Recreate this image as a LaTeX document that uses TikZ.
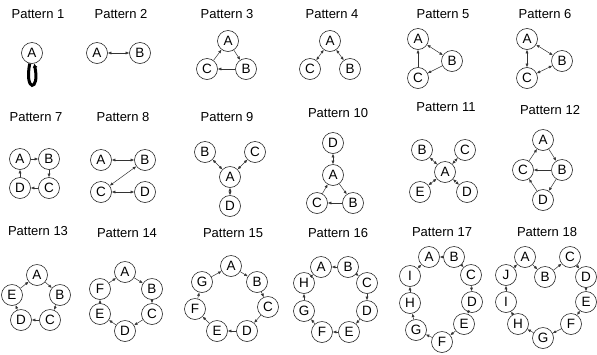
\documentclass[tikz,border=0pt]{standalone}
\usepackage{fontspec}
\setmainfont{Liberation Sans}
\usetikzlibrary{arrows.meta}
\begin{document}
\begin{tikzpicture}[x=1pt,y=-1pt,
  nd/.style={circle, draw=black!85, line width=0.6pt, minimum size=21pt, inner sep=0pt, font=\fontsize{13.5}{13.5}\selectfont},
  ttl/.style={inner sep=0pt, font=\fontsize{13}{13}\selectfont},
  ed/.style={line width=0.5pt, draw=black!80, -{Latex[length=3.5pt,width=3pt]}},
  bi/.style={line width=0.5pt, draw=black!80, {Latex[length=3.5pt,width=3pt]}-{Latex[length=3.5pt,width=3pt]}}]
\useasboundingbox (0,0) rectangle (597,354);
% titles
\node[ttl] (t1) at (38,14) {Pattern 1};
\node[ttl] (t2) at (121,14) {Pattern 2};
\node[ttl] (t3) at (227,14) {Pattern 3};
\node[ttl] (t4) at (332,14) {Pattern 4};
\node[ttl] (t5) at (443,14) {Pattern 5};
\node[ttl] (t6) at (545,14) {Pattern 6};
\node[ttl] (t7) at (36,117) {Pattern 7};
\node[ttl] (t8) at (123,117) {Pattern 8};
\node[ttl] (t9) at (227,117) {Pattern 9};
\node[ttl] (t10) at (338,113) {Pattern 10};
\node[ttl] (t11) at (446,107) {Pattern 11};
\node[ttl] (t12) at (550,110) {Pattern 12};
\node[ttl] (t13) at (38,231) {Pattern 13};
\node[ttl] (t14) at (127,233) {Pattern 14};
\node[ttl] (t15) at (233,233) {Pattern 15};
\node[ttl] (t16) at (338,233) {Pattern 16};
\node[ttl] (t17) at (442,232) {Pattern 17};
\node[ttl] (t18) at (547,232) {Pattern 18};
% Pattern 1
\node[nd] (aA) at (32,53) {A};
\draw[line width=3pt, -{Latex[length=4pt,width=5pt]}] (aA.258) .. controls (24,92) and (40,92) .. (aA.282);
% Pattern 2
\node[nd] (bA) at (97,53) {A};
\node[nd] (bB) at (140,53) {B};
\draw[bi] (bA) -- (bB);
% Pattern 3
\node[nd] (cA) at (228,41) {A};
\node[nd] (cB) at (246,69) {B};
\node[nd] (cC) at (207,69) {C};
\draw[ed] (cA) -- (cB);
\draw[ed] (cB) -- (cC);
\draw[ed] (cC) -- (cA);
% Pattern 4
\node[nd] (dA) at (330,41) {A};
\node[nd] (dB) at (350,69) {B};
\node[nd] (dC) at (310,69) {C};
\draw[bi] (dA) -- (dC);
\draw[bi] (dA) -- (dB);
% Pattern 5
\node[nd] (eA) at (418,39) {A};
\node[nd] (eB) at (452,61) {B};
\node[nd] (eC) at (418,78) {C};
\draw[bi] (eA) -- (eB);
\draw[ed] (eB) -- (eC);
\draw[ed] (eC) -- (eA);
% Pattern 6
\node[nd] (fA) at (527,39) {A};
\node[nd] (fB) at (562,61) {B};
\node[nd] (fC) at (527,78) {C};
\draw[bi] (fA) -- (fB);
\draw[bi] (fA) -- (fC);
\draw[bi] (fB) -- (fC);
% Pattern 7
\node[nd] (gA) at (20,159) {A};
\node[nd] (gB) at (49,159) {B};
\node[nd] (gC) at (49,188) {C};
\node[nd] (gD) at (20,188) {D};
\draw[ed] (gA) -- (gB);
\draw[ed] (gB) -- (gC);
\draw[ed] (gC) -- (gD);
\draw[ed] (gD) -- (gA);
% Pattern 8
\node[nd] (hA) at (101,160) {A};
\node[nd] (hB) at (145,160) {B};
\node[nd] (hC) at (101,192) {C};
\node[nd] (hD) at (145,192) {D};
\draw[bi] (hA) -- (hB);
\draw[bi] (hB) -- (hC);
\draw[bi] (hC) -- (hD);
% Pattern 9
\node[nd] (iB) at (205,152) {B};
\node[nd] (iC) at (255,152) {C};
\node[nd] (iA) at (230,177) {A};
\node[nd] (iD) at (230,206) {D};
\draw[bi] (iA) -- (iB);
\draw[bi] (iA) -- (iC);
\draw[bi] (iA) -- (iD);
% Pattern 10
\node[nd] (jD) at (333,143) {D};
\node[nd] (jA) at (333,175) {A};
\node[nd] (jC) at (317,203) {C};
\node[nd] (jB) at (353,203) {B};
\draw[bi] (jD) -- (jA);
\draw[ed] (jA) -- (jB);
\draw[ed] (jB) -- (jC);
\draw[ed] (jC) -- (jA);
% Pattern 11
\node[nd] (kB) at (422,150) {B};
\node[nd] (kC) at (465,150) {C};
\node[nd] (kA) at (445,172) {A};
\node[nd] (kE) at (420,192) {E};
\node[nd] (kD) at (467,192) {D};
\draw[bi] (kA) -- (kB);
\draw[bi] (kA) -- (kC);
\draw[bi] (kA) -- (kE);
\draw[bi] (kA) -- (kD);
% Pattern 12
\node[nd] (lA) at (543,140) {A};
\node[nd] (lC) at (523,170) {C};
\node[nd] (lB) at (562,170) {B};
\node[nd] (lD) at (543,200) {D};
\draw[ed] (lA) -- (lB);
\draw[ed] (lB) -- (lC);
\draw[ed] (lC) -- (lA);
\draw[ed] (lB) -- (lD);
\draw[ed] (lD) -- (lC);
% Pattern 13
\node[nd] (mA) at (37,275) {A};
\node[nd] (mB) at (60,295) {B};
\node[nd] (mC) at (50,320) {C};
\node[nd] (mD) at (21,320) {D};
\node[nd] (mE) at (12,295) {E};
\draw[ed] (mA) -- (mB);
\draw[ed] (mB) -- (mC);
\draw[ed] (mC) -- (mD);
\draw[ed] (mD) -- (mE);
\draw[ed] (mE) -- (mA);
% Pattern 14
\node[nd] (nA) at (125,272) {A};
\node[nd] (nB) at (152,289) {B};
\node[nd] (nC) at (152,314) {C};
\node[nd] (nD) at (125,331) {D};
\node[nd] (nE) at (100,314) {E};
\node[nd] (nF) at (100,289) {F};
\draw[ed] (nA) -- (nB);
\draw[ed] (nB) -- (nC);
\draw[ed] (nC) -- (nD);
\draw[ed] (nD) -- (nE);
\draw[ed] (nE) -- (nF);
\draw[ed] (nF) -- (nA);
% Pattern 15
\node[nd] (oA) at (231,266) {A};
\node[nd] (oB) at (257,282) {B};
\node[nd] (oC) at (268,307) {C};
\node[nd] (oD) at (247,331) {D};
\node[nd] (oE) at (217,331) {E};
\node[nd] (oF) at (195,309) {F};
\node[nd] (oG) at (202,282) {G};
\draw[ed] (oA) -- (oB);
\draw[ed] (oB) -- (oC);
\draw[ed] (oC) -- (oD);
\draw[ed] (oD) -- (oE);
\draw[ed] (oE) -- (oF);
\draw[ed] (oF) -- (oG);
\draw[ed] (oG) -- (oA);
% Pattern 16
\node[nd] (pA) at (321,267) {A};
\node[nd] (pB) at (348,267) {B};
\node[nd] (pC) at (367,283) {C};
\node[nd] (pD) at (367,311) {D};
\node[nd] (pE) at (349,332) {E};
\node[nd] (pF) at (322,332) {F};
\node[nd] (pG) at (304,311) {G};
\node[nd] (pH) at (304,283) {H};
\draw[ed] (pB) -- (pA);
\draw[ed] (pB) -- (pC);
\draw[ed] (pC) -- (pD);
\draw[ed] (pD) -- (pE);
\draw[ed] (pE) -- (pF);
\draw[ed] (pF) -- (pG);
\draw[ed] (pG) -- (pH);
\draw[ed] (pH) -- (pA);
% Pattern 17
\node[nd] (qA) at (429,257) {A};
\node[nd] (qB) at (454,257) {B};
\node[nd] (qC) at (471,275) {C};
\node[nd] (qD) at (472,302) {D};
\node[nd] (qE) at (464,324) {E};
\node[nd] (qF) at (442,342) {F};
\node[nd] (qG) at (416,330) {G};
\node[nd] (qH) at (410,303) {H};
\node[nd] (qI) at (410,276) {I};
\draw[ed] (qB) -- (qA);
\draw[ed] (qB) -- (qC);
\draw[ed] (qC) -- (qD);
\draw[ed] (qD) -- (qE);
\draw[ed] (qE) -- (qF);
\draw[ed] (qF) -- (qG);
\draw[ed] (qG) -- (qH);
\draw[ed] (qH) -- (qI);
\draw[ed] (qI) -- (qA);
% Pattern 18
\node[nd] (rA) at (525,257) {A};
\node[nd] (rB) at (545,277) {B};
\node[nd] (rC) at (570,257) {C};
\node[nd] (rD) at (586,277) {D};
\node[nd] (rE) at (586,302) {E};
\node[nd] (rF) at (571,324) {F};
\node[nd] (rG) at (543,338) {G};
\node[nd] (rH) at (518,324) {H};
\node[nd] (rI) at (506,302) {I};
\node[nd] (rJ) at (506,275) {J};
\draw[ed] (rA) -- (rB);
\draw[ed] (rB) -- (rC);
\draw[ed] (rC) -- (rD);
\draw[ed] (rD) -- (rE);
\draw[ed] (rE) -- (rF);
\draw[ed] (rF) -- (rG);
\draw[ed] (rG) -- (rH);
\draw[ed] (rH) -- (rI);
\draw[ed] (rI) -- (rJ);
\draw[ed] (rJ) -- (rA);
\end{tikzpicture}
\end{document}
